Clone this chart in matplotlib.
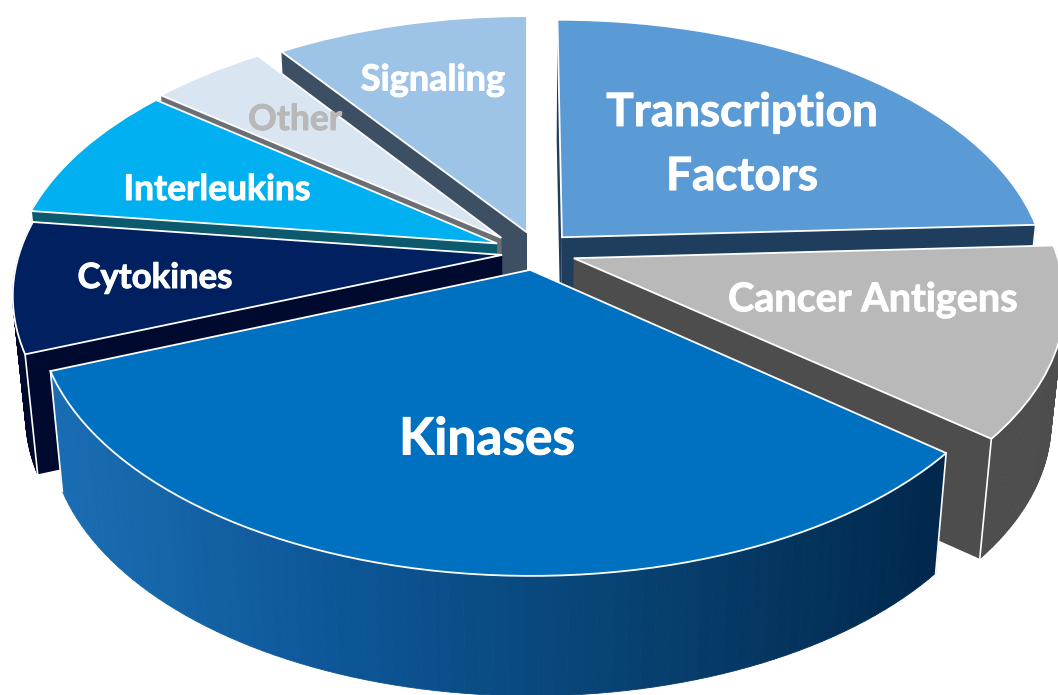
import numpy as np
import matplotlib
matplotlib.use('Agg')
import matplotlib.pyplot as plt
import matplotlib.patheffects as pe
from matplotlib.colors import LinearSegmentedColormap
from matplotlib.transforms import Affine2D, Transform

# shares (clockwise from 12 o'clock)
labels = ['Transcription\nFactors', 'Cancer Antigens', 'Kinases', 'Cytokines',
          'Interleukins', 'Other', 'Signaling']
shares = [24.2, 11.8, 33.0, 8.1, 8.6, 4.5, 9.8]

top_colors = ['#5b9bd5', '#b9b9b9', '#0070c0', '#002060', '#00b0f0', '#dae5f2', '#9dc3e6']
side_colors = ['#1f3d5c', '#4d4d4d', '#0b4f8a', '#000a2e', '#0d5a6e', '#6b6f73', '#3d4f63']
text_colors = ['white', 'white', 'white', 'white', 'white', '#b8b8b8', 'white']

# slice offsets on the disc, drawing order back to front
offsets = [(0.068, 0.047), (0.090, -0.030), (0.006, -0.072), (-0.048, -0.018),
           (-0.058, 0.024), (-0.050, 0.045), (0.0, 0.065)]
draw_order = [6, 5, 4, 0, 3, 1, 2]

text_pos = [(742, 145), (873, 300), (487, 440), (155, 278), (217, 190), (295, 120), (433, 80)]
text_size = [33, 28.5, 37, 25, 25.5, 25.5, 26]

# perspective of the disc
CX, CY = 527, 295
A, B, K, AX = 280, 45, 0.161, 518
RADIUS = 0.93
DEPTH, SHRINK = 120, 0.975


def project(u, v):
    w = 1 + K * v
    return CX + AX * u / w, CY - (A * v + B) / w


class DiscProjection(Transform):
    input_dims = 2
    output_dims = 2

    def transform_non_affine(self, values):
        x, y = project(values[:, 0], values[:, 1])
        return np.column_stack([x, y])


def drop(x, y):
    return CX + (x - CX) * SHRINK, y + DEPTH


fig = plt.figure(figsize=(10.58, 6.95), dpi=100)
ax = fig.add_axes([0, 0, 1, 1])
wedges, _ = ax.pie(shares, startangle=90, counterclock=False, colors=top_colors, radius=RADIUS,
                   wedgeprops=dict(edgecolor='white', linewidth=1.3))
ax.set_aspect('auto')
ax.set_xlim(0, 1058)
ax.set_ylim(695, 0)
ax.axis('off')

kinase_cmap = LinearSegmentedColormap.from_list('kin', ['#1a6db3', '#0c5595', '#07406f', '#01284d'])

z = 1
for i in draw_order:
    w = wedges[i]
    du, dv = offsets[i]
    t = np.radians(np.linspace(w.theta1, w.theta2, 80))
    x, y = project(RADIUS * np.cos(t) + du, RADIUS * np.sin(t) + dv)
    x0, y0 = project(np.array([du]), np.array([dv]))
    xb, yb = drop(x, y)
    xb0, yb0 = drop(x0, y0)

    # cut faces
    for xe, ye, xf, yf in [(x[0], y[0], xb[0], yb[0]), (x[-1], y[-1], xb[-1], yb[-1])]:
        ax.fill([x0[0], xe, xf, xb0[0]], [y0[0], ye, yf, yb0[0]],
                color=side_colors[i], ec='none', zorder=z)
    # outer rim, front part only
    for k in range(len(t) - 1):
        if np.sin(t[k]) > 0.25:
            continue
        if i == 2:
            col = kinase_cmap(np.clip((x[k] - 50) / 890, 0, 1))
        else:
            col = side_colors[i]
        ax.fill([x[k], x[k + 1], xb[k + 1], xb[k]], [y[k], y[k + 1], yb[k + 1], yb[k]],
                facecolor=col, edgecolor=col, linewidth=0.6, zorder=z)
    # white corner lines
    for j in (0, -1):
        if np.sin(t[j]) < 0.2:
            ax.plot([x[j], xb[j]], [y[j], yb[j]], color='white', lw=1.2, zorder=z + 0.5)

    w.set_transform(Affine2D().translate(du, dv) + DiscProjection() + ax.transData)
    w.set_zorder(z + 1)
    z += 2

for i, lab in enumerate(labels):
    ax.text(text_pos[i][0], text_pos[i][1], lab, ha='center', va='center', color=text_colors[i],
            fontsize=text_size[i], fontweight='bold', family='Lato', linespacing=1.65,
            zorder=50, path_effects=[pe.withStroke(linewidth=0.7, foreground=text_colors[i])])

fig.savefig('out.png', dpi=100)
